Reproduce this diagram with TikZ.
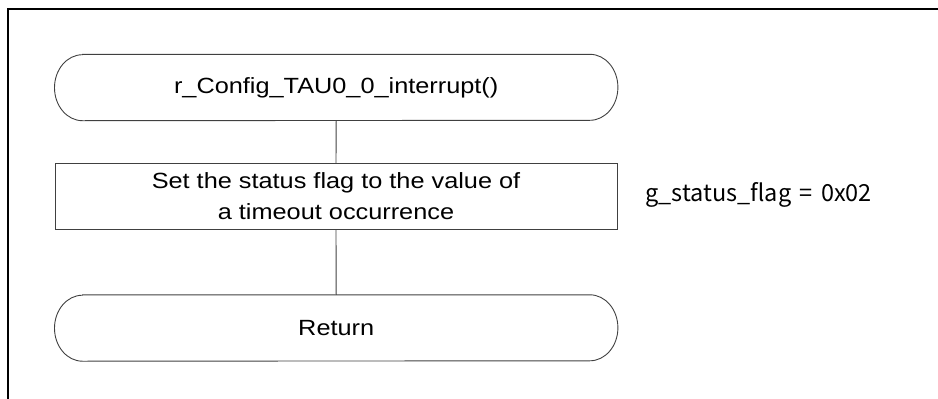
\documentclass[tikz,border=0pt]{standalone}
\usepackage{fontspec}
\setmainfont{Liberation Sans}[FakeStretch=1.15]
\newfontfamily\notejp{Noto Sans CJK JP}[WordSpace=1.6]
\begin{document}
\begin{tikzpicture}[x=1pt,y=-1pt,
  outline/.style={draw=black!75,line width=0.9pt},
  boxtext/.style={font=\fontsize{22}{31}\selectfont,align=center,text=black},
  termnode/.style={boxtext,minimum width=563pt,minimum height=66pt,inner sep=0pt},
  procnode/.style={boxtext,outline,minimum width=562pt,minimum height=66pt,inner sep=0pt},
  note/.style={font=\notejp\fontsize{23.5}{28}\selectfont,anchor=west,inner sep=0pt},
  flow/.style={outline}]
  \useasboundingbox (0,0) rectangle (938,399);
  % frame (top and left edges)
  \draw[line width=2pt] (8,399) -- (8,9) -- (938,9);

  % nodes
  \node[termnode] (start) at (336.2,87.5) {r\_Config\_TAU0\_0\_interrupt()};
  \node[procnode] (setflag) at (336,196.5) {Set the status flag to the value of\\a timeout occurrence};
  \node[termnode] (ret) at (336.2,328) {Return};
  \node[note] (flagnote) at (645,195) {g\_status\_flag = 0x02};

  % terminal outlines with elliptical ends
  \foreach \t in {start,ret}{
    \draw[outline] ([xshift=28pt]\t.north west) -- ([xshift=-28pt]\t.north east)
      arc[start angle=90,end angle=-90,x radius=28pt,y radius=33pt]
      -- ([xshift=28pt]\t.south west)
      arc[start angle=270,end angle=90,x radius=28pt,y radius=33pt] -- cycle;
  }

  % connectors
  \draw[flow] (start.south) -- (setflag.north);
  \draw[flow] (setflag.south) -- (ret.north);
\end{tikzpicture}
\end{document}
